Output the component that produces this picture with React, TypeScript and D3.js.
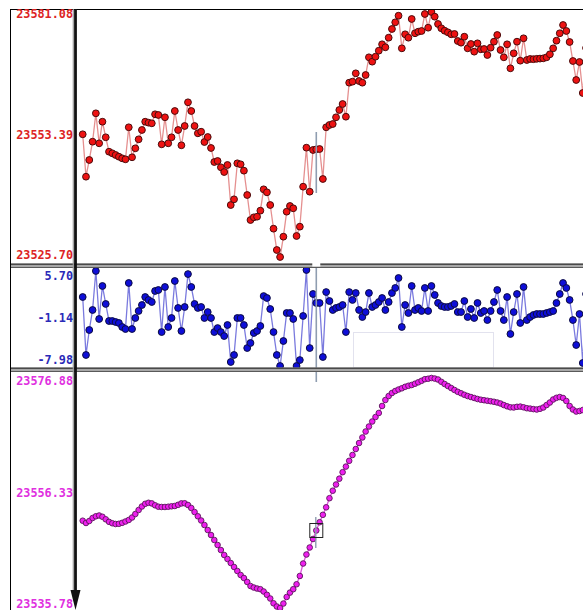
import React from 'react';
import * as d3 from 'd3';

// ---- data ----
const priceSeries = [
  23553.44, 23543.85, 23547.63, 23551.76, 23558.18, 23551.40, 23556.28, 23552.76, 23549.50, 23549.14,
  23548.76, 23548.37, 23548.01, 23547.78, 23555.02, 23548.24, 23550.27, 23552.30, 23554.41, 23556.28,
  23556.06, 23555.92, 23557.96, 23557.80, 23551.17, 23557.28, 23551.40, 23552.76, 23558.70, 23554.41,
  23550.95, 23555.31, 23560.67, 23558.70, 23555.31, 23553.66, 23554.02, 23551.69, 23552.82, 23550.34,
  23547.17, 23547.40, 23545.98, 23544.91, 23546.50, 23537.45, 23538.74, 23546.88, 23546.65, 23545.21,
  23539.71, 23534.06, 23534.67, 23534.81, 23536.17, 23541.00, 23540.32, 23537.45, 23532.10, 23527.28,
  23525.70, 23530.29, 23535.94, 23537.23, 23536.71, 23530.45, 23532.55, 23541.59, 23550.41, 23540.46,
  23549.89, 23550.04, 23550.11, 23543.33, 23555.02, 23555.54, 23555.76, 23557.28, 23558.93, 23560.28,
  23557.41, 23565.10, 23565.33, 23567.22, 23565.48, 23565.10, 23566.84, 23570.84, 23569.85, 23570.98,
  23572.33, 23573.78, 23573.10, 23575.27, 23577.24, 23578.75, 23580.24, 23572.87, 23576.04, 23575.27,
  23579.50, 23576.27, 23576.63, 23576.79, 23580.63, 23577.53, 23581.08, 23580.02, 23578.37, 23577.40,
  23576.85, 23576.49, 23576.04, 23576.11, 23574.52, 23574.14, 23575.50, 23572.87, 23573.85, 23572.11,
  23574.00, 23572.65, 23572.72, 23571.36, 23573.01, 23574.37, 23575.88, 23572.49, 23570.84, 23573.78,
  23568.35, 23571.74, 23574.37, 23570.07, 23575.14, 23570.23, 23570.46, 23570.41, 23570.50, 23570.55,
  23570.61, 23570.84, 23571.52, 23572.87, 23574.59, 23576.27, 23578.14, 23576.79, 23574.30, 23570.00,
  23565.71, 23569.78, 23562.77, 23572.94, 23570.00,
];

const oscSeries = [
  1.85, -6.41, -2.85, 0.00, 5.56, -1.28, 3.42, 0.86, -1.57, -1.57,
  -1.71, -1.85, -2.42, -2.71, 3.85, -2.71, -1.14, -0.14, 0.71, 1.85,
  1.43, 1.14, 2.71, 2.85, -3.14, 3.28, -2.42, -1.14, 4.13, 0.29,
  -2.99, 0.43, 5.12, 3.28, 0.86, 0.29, 0.43, -1.14, -0.29, -1.14,
  -3.14, -2.57, -3.14, -3.71, -2.14, -7.41, -6.41, -1.14, -1.14, -2.14,
  -5.42, -4.70, -3.28, -2.99, -2.28, 1.99, 1.71, 0.14, -3.14, -6.41,
  -7.98, -4.42, -0.43, -0.43, -1.28, -7.98, -7.13, -0.85, 5.70, -5.42,
  2.28, 1.00, 1.00, -6.70, 2.56, 1.28, 0.00, 0.29, 0.43, 0.71,
  -3.14, 2.56, 1.43, 2.42, 0.00, -1.00, -0.29, 2.42, 0.43, 0.71,
  1.14, 1.71, 0.00, 1.14, 2.42, 3.14, 4.56, -2.42, 0.71, -0.43,
  3.42, 0.00, 0.29, -0.14, 3.14, -0.14, 3.42, 2.14, 1.00, 0.57,
  0.43, 0.43, 0.57, 0.86, -0.29, -0.29, 1.28, -1.00, 0.14, -1.14,
  1.00, -0.43, -0.14, -1.43, -0.14, 1.14, 2.85, -0.14, -1.43, 1.85,
  -3.42, -0.29, 2.28, -1.85, 3.28, -1.43, -1.00, -0.71, -0.57, -0.57,
  -0.57, -0.43, -0.29, -0.14, 1.00, 2.28, 3.85, 3.14, 1.43, -1.43,
  -4.99, -0.57, -7.55, 2.28, -1.00,
];

const avgSeries = [
  23551.38, 23550.97, 23551.33, 23551.86, 23552.17, 23552.31, 23552.08, 23551.63, 23551.18, 23550.92,
  23550.79, 23550.83, 23551.00, 23551.24, 23551.51, 23551.95, 23552.58, 23553.29, 23553.92, 23554.40,
  23554.58, 23554.47, 23554.13, 23553.88, 23553.83, 23553.83, 23553.88, 23553.95, 23554.01, 23554.22,
  23554.47, 23554.49, 23554.19, 23553.65, 23552.93, 23552.17, 23551.42, 23550.61, 23549.72, 23548.82,
  23547.93, 23547.04, 23546.14, 23545.25, 23544.54, 23543.82, 23543.11, 23542.39, 23541.68, 23541.14,
  23540.43, 23539.71, 23539.44, 23539.26, 23539.14, 23538.73, 23538.14, 23537.48, 23536.62, 23536.05,
  23535.78, 23536.58, 23537.75, 23538.53, 23539.14, 23540.02, 23541.50, 23543.73, 23545.34, 23546.59,
  23548.11, 23549.63, 23551.11, 23552.43, 23553.77, 23555.40, 23556.74, 23557.85, 23558.89, 23560.05,
  23561.05, 23562.08, 23563.12, 23564.19, 23565.26, 23566.25, 23567.32, 23568.21, 23569.11, 23569.91,
  23570.63, 23571.88, 23572.95, 23573.66, 23574.20, 23574.56, 23574.82, 23575.04, 23575.31, 23575.49,
  23575.63, 23575.86, 23576.11, 23576.38, 23576.67, 23576.75, 23576.88, 23576.78, 23576.61, 23576.20,
  23575.81, 23575.45, 23575.09, 23574.74, 23574.41, 23574.15, 23573.88, 23573.66, 23573.48, 23573.31,
  23573.13, 23573.00, 23572.91, 23572.82, 23572.73, 23572.63, 23572.50, 23572.32, 23572.05, 23571.82,
  23571.64, 23571.62, 23571.73, 23571.77, 23571.64, 23571.48, 23571.41, 23571.32, 23571.25, 23571.38,
  23571.61, 23572.05, 23572.50, 23573.04, 23573.34, 23573.48, 23573.31, 23572.77, 23571.88, 23571.25,
  23570.89, 23570.98, 23571.16, 23571.16, 23571.16,
];

const priceTicks = ['23581.08', '23553.39', '23525.70'];
const oscTicks = ['5.70', '-1.14', '-7.98'];
const avgTicks = ['23576.88', '23556.33', '23535.78'];
const cursorIndex = 71;

// ---- layout ----
const W = 583;
const H = 610;
const X0 = 82.7;
const STEP = 3.29;
const AXIS_X = 75.5;
const LABEL_X = 73;

const xScale = d3.scaleLinear().domain([0, 1]).range([X0, X0 + STEP]);
const yPrice = d3.scaleLinear().domain([23525.70, 23581.08]).range([257, 12]);
const yOsc = d3.scaleLinear().domain([-7.98, 5.70]).range([366, 270]);
const yAvg = d3.scaleLinear().domain([23535.78, 23576.88]).range([608, 378]);

type Panel = {
  data: number[];
  y: d3.ScaleLinear<number, number>;
  ticks: string[];
  insetTop: number;
  insetBottom: number;
  line: string;
  lineWidth: number;
  fill: string;
  stroke: string;
  r: number;
  sw: number;
  text: string;
};

const panels: Panel[] = [
  { data: priceSeries, y: yPrice, ticks: priceTicks, insetTop: 2, insetBottom: 2, line: '#e59090', lineWidth: 1.3, fill: '#ee1212', stroke: '#4a0c0c', r: 3.4, sw: 1, text: '#dd2424' },
  { data: oscSeries, y: yOsc, ticks: oscTicks, insetTop: 6, insetBottom: 6, line: '#7a7ade', lineWidth: 1.3, fill: '#0e0ed8', stroke: '#0c0c40', r: 3.4, sw: 1, text: '#2a2ab8' },
  { data: avgSeries, y: yAvg, ticks: avgTicks, insetTop: 3, insetBottom: 4, line: '#dd55dd', lineWidth: 1.3, fill: '#ee20ee', stroke: '#5a165a', r: 2.8, sw: 0.9, text: '#e030e0' },
];

function Separator({ y }: { y: number }) {
  return (
    <g>
      <rect x={10} y={y} width={W - 10} height={4.5} fill="#a8a8a8" />
      <line x1={10} x2={W} y1={y + 0.7} y2={y + 0.7} stroke="#4a4a4a" strokeWidth={1.4} />
      <line x1={10} x2={W} y1={y + 4} y2={y + 4} stroke="#5a5a5a" strokeWidth={1} />
    </g>
  );
}

export default function App() {
  const cx = xScale(cursorIndex);
  const boxY = yAvg(avgSeries[cursorIndex]);
  return (
    <svg
      width={W}
      height={H}
      style={{ position: 'absolute', left: 0, top: 0, background: '#fff' }}
      fontFamily="'DejaVu Sans Mono', monospace"
    >
      <rect x={0} y={0} width={W} height={H} fill="#fff" />
      <defs>
        <clipPath id="plot">
          <rect x={77} y={9} width={W - 77} height={H - 9} />
        </clipPath>
      </defs>

      {/* tooltip-like white box in the middle panel */}
      <rect x={353.5} y={332.5} width={140} height={35} fill="#fff" stroke="#e2e2ee" strokeWidth={1} />

      <g clipPath="url(#plot)">
        {panels.map((p, k) => {
          const line = d3
            .line<number>()
            .x((_, i) => xScale(i))
            .y((d) => p.y(d));
          return (
            <g key={k}>
              <path d={line(p.data) || ''} fill="none" stroke={p.line} strokeWidth={p.lineWidth} />
              {p.data.map((d, i) => (
                <circle key={i} cx={xScale(i)} cy={p.y(d)} r={p.r} fill={p.fill} stroke={p.stroke} strokeWidth={p.sw} />
              ))}
            </g>
          );
        })}
      </g>

      {/* cursor */}
      <line x1={cx} x2={cx} y1={132} y2={193} stroke="#8f9db0" strokeWidth={1.6} />
      <line x1={cx} x2={cx} y1={266} y2={382} stroke="#8f9db0" strokeWidth={1.6} />
      <line x1={cx - 0.5} x2={cx - 0.5} y1={517} y2={548} stroke="#8f9db0" strokeWidth={1.4} />
      <rect x={cx - 6.5} y={boxY - 7} width={13} height={14} fill="none" stroke="#222" strokeWidth={1} />

      {/* panel separators */}
      <Separator y={263.5} />
      <Separator y={367.5} />
      <rect x={cx - 4} y={263} width={8} height={3.5} fill="#fff" />

      {/* frame */}
      <line x1={10} x2={W} y1={9.5} y2={9.5} stroke="#000" strokeWidth={1} />
      <line x1={10.5} x2={10.5} y1={9} y2={H} stroke="#000" strokeWidth={1} />

      {/* vertical axis with arrow */}
      <line x1={AXIS_X - 2.2} x2={AXIS_X - 2.2} y1={9} y2={592} stroke="#9a9a9a" strokeWidth={1.2} />
      <line x1={AXIS_X} x2={AXIS_X} y1={9} y2={594} stroke="#111" strokeWidth={2.8} />
      <polygon points={`${AXIS_X - 5},${590} ${AXIS_X + 5},${590} ${AXIS_X},${610}`} fill="#111" />

      {/* tick labels */}
      {panels.map((p, k) => {
        const vals = p.ticks.map(Number);
        return (
          <g key={k} fontSize={11.8} fontWeight="bold" fill={p.text} textAnchor="end">
            {p.ticks.map((t, i) => {
              let y = p.y(vals[i]);
              if (i === 0) y += p.insetTop;
              if (i === p.ticks.length - 1) y -= p.insetBottom;
              return (
                <text key={t} x={LABEL_X} y={y + 4.2}>
                  {t}
                </text>
              );
            })}
          </g>
        );
      })}
    </svg>
  );
}
